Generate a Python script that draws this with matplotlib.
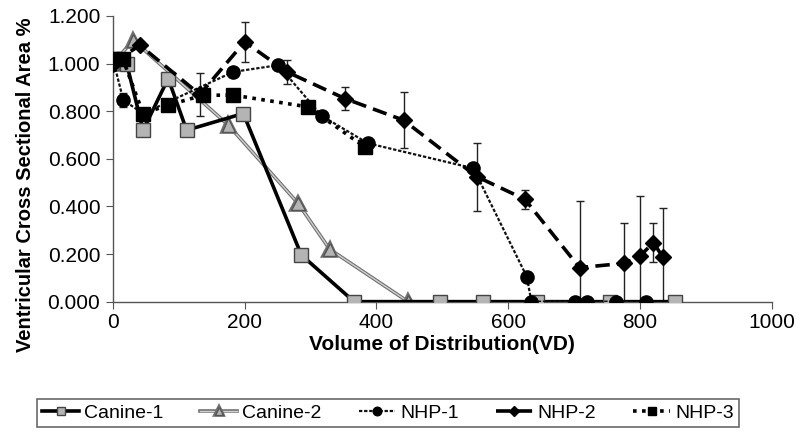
import matplotlib
matplotlib.use("Agg")
import matplotlib.pyplot as plt
import matplotlib.patheffects as pe

plt.rcParams['font.family'] = ['Liberation Sans', 'DejaVu Sans']

c1_x = [0, 21, 46, 84, 112, 198, 286, 366, 496, 562, 643, 754, 853]
c1_y = [1.02, 1.00, 0.72, 0.937, 0.72, 0.79, 0.196, 0.0, 0.0, 0.0, 0.0, 0.0, 0.0]

c2_x = [0, 31, 175, 281, 329, 448]
c2_y = [1.00, 1.098, 0.742, 0.413, 0.22, 0.0]

n1_x = [0, 16, 46, 183, 251, 317, 387, 547, 628, 635, 701, 720, 764, 809]
n1_y = [1.02, 0.846, 0.79, 0.965, 0.993, 0.78, 0.665, 0.56, 0.105, 0.0, 0.0, 0.0, 0.0, 0.0]
n1_err = [0.0, 0.03, 0.0, 0.0, 0.0, 0.0, 0.0, 0.0, 0.0, 0.0, 0.0, 0.0, 0.0, 0.0]

n2_x = [0, 41, 132, 200, 264, 352, 441, 552, 625, 708, 776, 800, 820, 834]
n2_y = [1.00, 1.077, 0.87, 1.091, 0.965, 0.853, 0.762, 0.525, 0.43, 0.143, 0.161, 0.192, 0.248, 0.189]
n2_err = [0.0, 0.0, 0.09, 0.085, 0.05, 0.05, 0.118, 0.143, 0.04, 0.281, 0.168, 0.253, 0.082, 0.205]

n3_x = [0, 15, 46, 84, 137, 183, 296, 382]
n3_y = [1.02, 1.02, 0.79, 0.825, 0.867, 0.867, 0.818, 0.65]

xticks = [0, 200, 400, 600, 800, 1000]
yticks = [0.0, 0.2, 0.4, 0.6, 0.8, 1.0, 1.2]

fig = plt.figure(figsize=(8, 4.41), dpi=100)
ax = fig.add_axes([0.141, 0.316, 0.824, 0.648])

gray = '#b4b4b4'

ax.errorbar(n2_x, n2_y, yerr=n2_err, fmt='none', ecolor='#222222', elinewidth=1.0, capsize=3, capthick=1.0, zorder=2)
ax.errorbar(n1_x, n1_y, yerr=n1_err, fmt='none', ecolor='#222222', elinewidth=1.0, capsize=3, capthick=1.0, zorder=2)

l1, = ax.plot(c1_x, c1_y, color='black', lw=2.6, marker='s', ms=9.5, mfc=gray, mec='#444444', mew=1.0, label='Canine-1', zorder=4)
l2, = ax.plot(c2_x, c2_y, color='#d0d0d0', lw=1.0, marker='^', ms=9.5, mfc=gray, mec='#555555', mew=1.0, label='Canine-2', zorder=3,
              path_effects=[pe.Stroke(linewidth=2.6, foreground='#707070'), pe.Normal()])
l3, = ax.plot(n1_x, n1_y, color='#111111', lw=1.6, ls=(0, (1.5, 0.8)), marker='o', ms=9.5, mfc='black', mec='black', label='NHP-1', zorder=5)
l4, = ax.plot(n2_x, n2_y, color='black', lw=2.6, ls=(0, (4, 2)), marker='D', ms=8, mfc='black', mec='black', label='NHP-2', zorder=5)
l5, = ax.plot(n3_x, n3_y, color='black', lw=2.6, ls=(0, (1, 1.5)), marker='s', ms=9.5, mfc='black', mec='black', label='NHP-3', zorder=5)

ax.set_xlim(0, 1000)
ax.set_ylim(0, 1.2)
ax.set_xticks(xticks)
ax.set_yticks(yticks)
ax.set_yticklabels([f'{v:.3f}' for v in yticks])
ax.spines['top'].set_visible(False)
ax.spines['right'].set_visible(False)
for s in ['left', 'bottom']:
    ax.spines[s].set_color('#555555')
    ax.spines[s].set_linewidth(1.0)
ax.tick_params(axis='both', direction='out', length=5, color='#555555', labelsize=15)
ax.tick_params(axis='x', pad=3)
ax.tick_params(axis='y', pad=4)

ax.set_xlabel('Volume of Distribution(VD)', fontsize=15, fontweight='bold', labelpad=2)
ax.set_ylabel('Ventricular Cross Sectional Area %', fontsize=14.5, fontweight='bold', labelpad=6)
ax.yaxis.set_label_coords(-0.118, 0.41)

leg = fig.legend(handles=[l1, l2, l3, l4, l5], loc='center', bbox_to_anchor=(0.485, 0.0635),
                 ncol=5, fontsize=14, frameon=True, fancybox=False, edgecolor='#444444',
                 handlelength=1.9, columnspacing=1.9, handletextpad=0.25, borderpad=0.25,
                 markerscale=0.65)
leg.get_frame().set_linewidth(1.2)

fig.savefig('out.png', dpi=100)
